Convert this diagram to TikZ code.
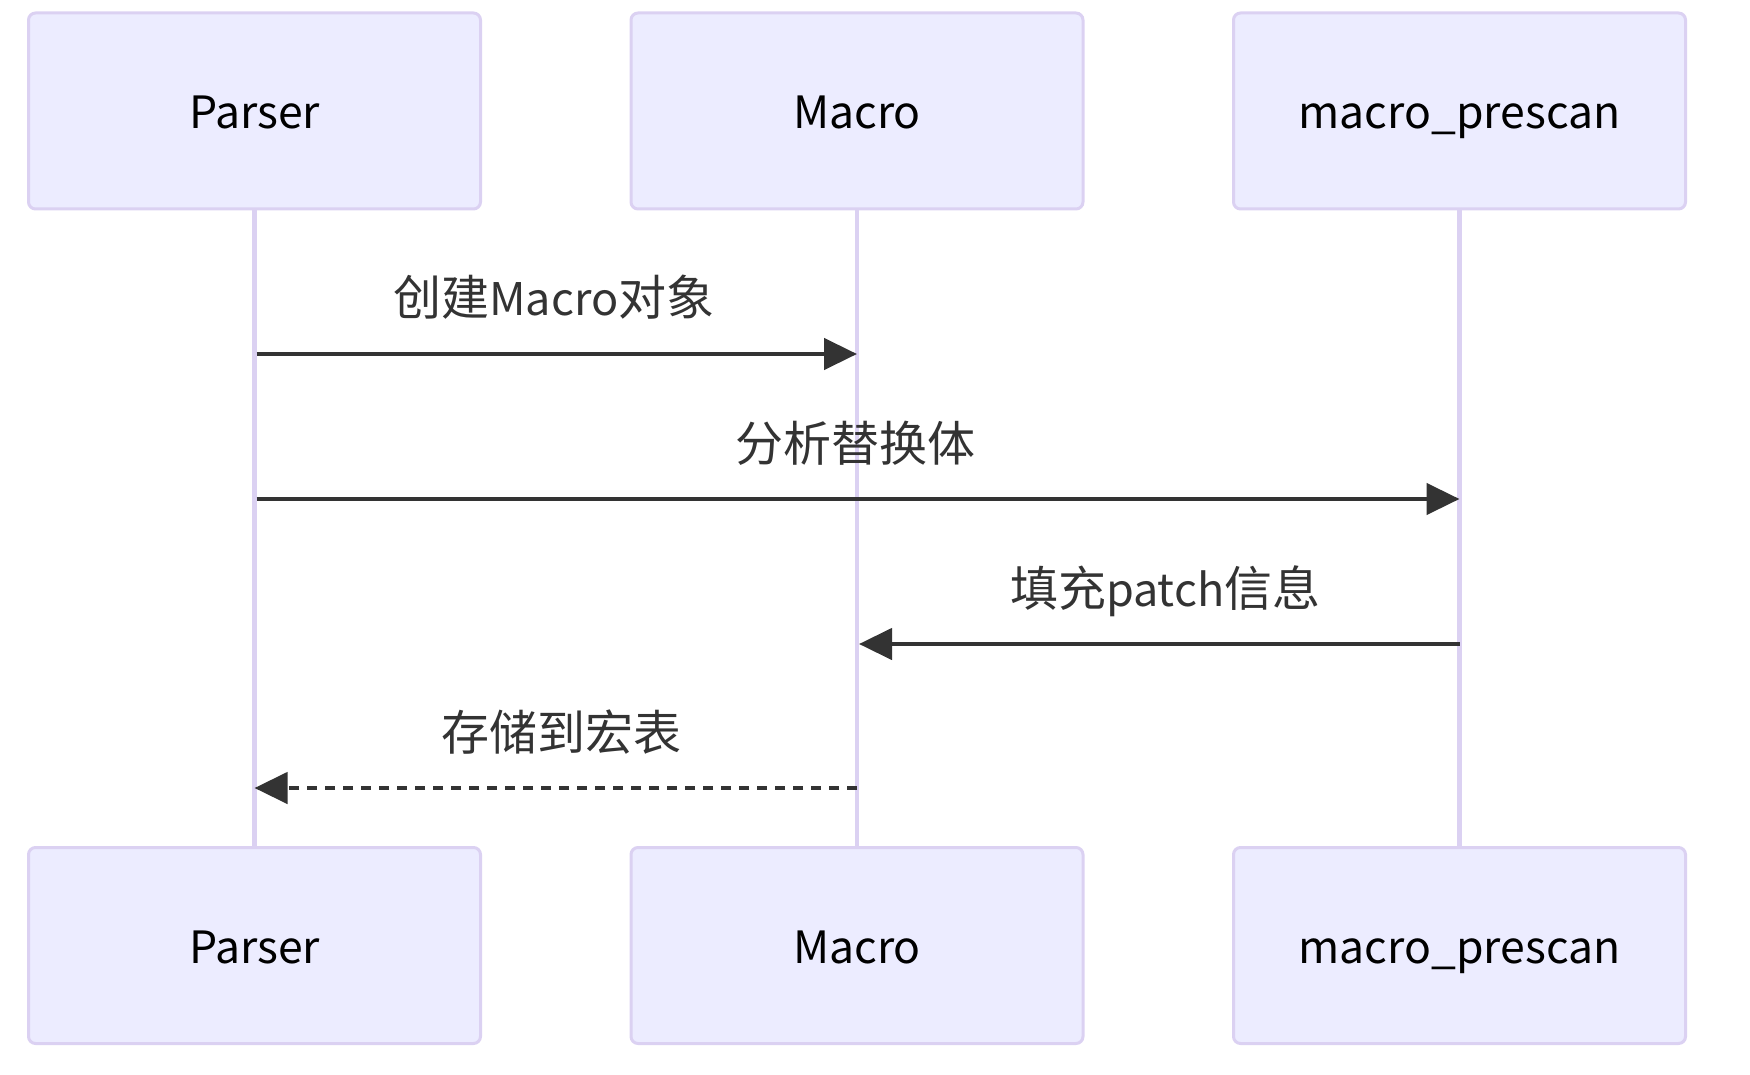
\documentclass[tikz,border=0pt]{standalone}
\usepackage{fontspec}
\setmainfont{Noto Sans CJK SC}
\usetikzlibrary{arrows.meta,calc}
\definecolor{actfill}{HTML}{ECECFF}
\definecolor{actline}{HTML}{DBD1F2}
\definecolor{msgcol}{HTML}{333333}
\newcommand{\lat}[1]{{\fontsize{45}{52}\selectfont #1}}
\begin{document}
\begin{tikzpicture}[x=1pt,y=-1pt,
  actor/.style={draw=actline, fill=actfill, line width=3pt, rounded corners=7pt,
    minimum width=452pt, minimum height=196pt, inner sep=0pt,
    text height=36pt, text depth=0pt,
    font=\fontsize{44.5}{50}\selectfont, text=black},
  lifeline/.style={draw=actline, line width=4.5pt},
  msg/.style={draw=msgcol, line width=4.5pt, -{Triangle[length=33pt,width=31pt]}},
  msgdash/.style={msg, dash pattern=on 10pt off 8pt},
  lbl/.style={font=\fontsize{48}{54}\selectfont, text=msgcol, inner sep=0pt, anchor=base}
]
\useasboundingbox (0,0) rectangle (1750,1075);
\node[actor] (pt) at (254.5,111) {Parser};
\node[actor] (mt) at (857,111) {Macro};
\node[actor] (st) at (1459.5,111) {macro\_prescan};
\node[actor] (pb) at (254.5,945.5) {Parser};
\node[actor] (mb) at (857,945.5) {Macro};
\node[actor] (sb) at (1459.5,945.5) {macro\_prescan};
\draw[lifeline] (pt.south) -- (pb.north);
\draw[lifeline] (mt.south) -- (mb.north);
\draw[lifeline] (st.south) -- (sb.north);
\coordinate (a1) at ([xshift=2pt]pt.south |- 0,354);
\coordinate (b1) at (mt.south |- 0,354);
\coordinate (a2) at ([xshift=2pt]pt.south |- 0,499);
\coordinate (b2) at (st.south |- 0,499);
\coordinate (a3) at (st.south |- 0,644);
\coordinate (b3) at ([xshift=2pt]mt.south |- 0,644);
\coordinate (a4) at (mt.south |- 0,788);
\coordinate (b4) at (pt.south |- 0,788);
\draw[msg] (a1) -- (b1);
\draw[msg] (a2) -- (b2);
\draw[msg] (a3) -- (b3);
\draw[msgdash] (a4) -- (b4);
\node[lbl] (l1) at ($(a1)!0.5!(b1)+(-3,-38)$) {创建\lat{Macro}对象};
\node[lbl] (l2) at ($(a2)!0.5!(b2)+(-3,-38)$) {分析替换体};
\node[lbl] (l3) at ($(a3)!0.5!(b3)+(6,-38)$) {填充\lat{patch}信息};
\node[lbl] (l4) at ($(a4)!0.5!(b4)+(6,-38)$) {存储到宏表};
\end{tikzpicture}
\end{document}
